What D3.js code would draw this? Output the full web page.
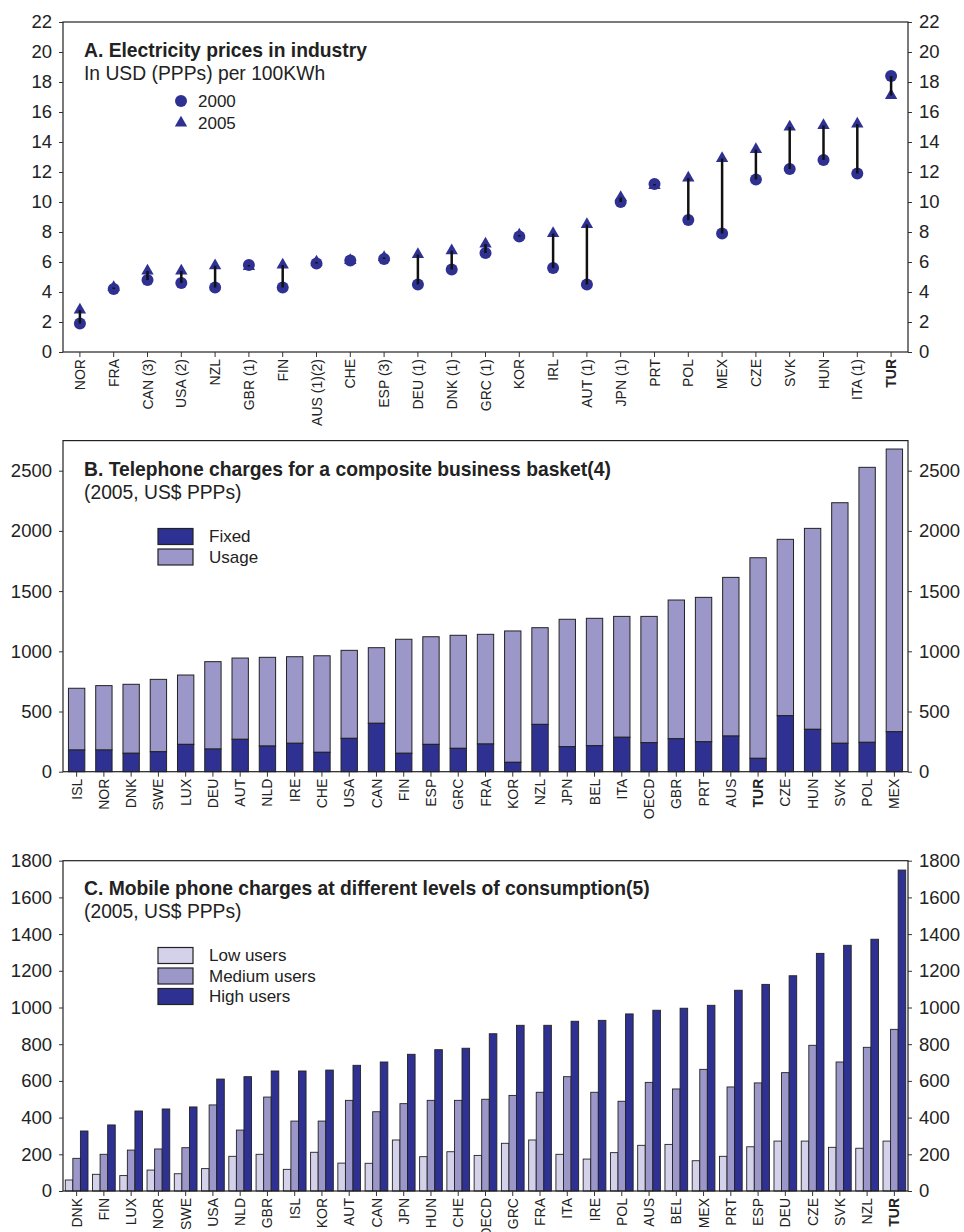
<!DOCTYPE html>
<html>
<head>
<meta charset="utf-8">
<script src="https://cdn.jsdelivr.net/npm/d3@7"></script>
<style>
  body { margin: 0; background: #fff; }
  text { font-family: "Liberation Sans", Arial, sans-serif; fill: #222; }
</style>
</head>
<body>
<svg id="chart" width="964" height="1232"></svg>
<script>
// A. Electricity prices in industry
const elecCountries = ["NOR", "FRA", "CAN (3)", "USA (2)", "NZL", "GBR (1)", "FIN", "AUS (1)(2)", "CHE",
  "ESP (3)", "DEU (1)", "DNK (1)", "GRC (1)", "KOR", "IRL", "AUT (1)", "JPN (1)", "PRT", "POL", "MEX",
  "CZE", "SVK", "HUN", "ITA (1)", "TUR"];
const elec2000 = [1.9, 4.2, 4.8, 4.6, 4.3, 5.8, 4.3, 5.9, 6.1, 6.2, 4.5, 5.5, 6.6, 7.7, 5.6, 4.5, 10.0,
  11.2, 8.8, 7.9, 11.5, 12.2, 12.8, 11.9, 18.4];
const elec2005 = [2.8, 4.3, 5.4, 5.4, 5.75, 5.7, 5.8, 6.0, 6.1, 6.3, 6.5, 6.75, 7.2, 7.8, 7.9, 8.5, 10.3,
  11.1, 11.6, 12.9, 13.5, 15.0, 15.1, 15.2, 17.1];
const elecTicks = [0, 2, 4, 6, 8, 10, 12, 14, 16, 18, 20, 22];

// B. Telephone charges for a composite business basket
const phoneCountries = ["ISL", "NOR", "DNK", "SWE", "LUX", "DEU", "AUT", "NLD", "IRE", "CHE", "USA", "CAN",
  "FIN", "ESP", "GRC", "FRA", "KOR", "NZL", "JPN", "BEL", "ITA", "OECD", "GBR", "PRT", "AUS", "TUR",
  "CZE", "HUN", "SVK", "POL", "MEX"];
const phoneTotal = [693, 715, 726, 767, 803, 914, 944, 950, 955, 963, 1008, 1030, 1100, 1121, 1133, 1141,
  1169, 1196, 1266, 1274, 1290, 1290, 1426, 1448, 1614, 1777, 1930, 2021, 2234, 2528, 2680];
const phoneFixed = [180, 180, 153, 166, 227, 188, 269, 213, 236, 161, 277, 402, 153, 227, 194, 230, 78,
  393, 208, 216, 286, 241, 274, 249, 296, 111, 465, 352, 236, 244, 332];
const phoneTicks = [0, 500, 1000, 1500, 2000, 2500];

// C. Mobile phone charges
const mobileCountries = ["DNK", "FIN", "LUX", "NOR", "SWE", "USA", "NLD", "GBR", "ISL", "KOR", "AUT", "CAN",
  "JPN", "HUN", "CHE", "OECD", "GRC", "FRA", "ITA", "IRE", "POL", "AUS", "BEL", "MEX", "PRT", "ESP",
  "DEU", "CZE", "SVK", "NZL", "TUR"];
const mobileLow = [60, 91, 84, 114, 94, 122, 189, 200, 118, 211, 152, 151, 278, 187, 214, 194, 260, 278,
  200, 174, 209, 249, 254, 165, 189, 241, 272, 272, 238, 233, 272];
const mobileMedium = [178, 200, 223, 229, 236, 469, 332, 512, 381, 381, 494, 432, 476, 494, 494, 500, 521,
  538, 623, 538, 489, 592, 556, 663, 567, 589, 645, 794, 703, 783, 881];
const mobileHigh = [327, 360, 436, 447, 458, 610, 623, 654, 654, 659, 685, 703, 745, 770, 778, 857, 903,
  903, 925, 930, 965, 985, 996, 1012, 1094, 1126, 1173, 1295, 1339, 1372, 1749];
const mobileTicks = [0, 200, 400, 600, 800, 1000, 1200, 1400, 1600, 1800];

const navy = "#2e3192";
const lavender = "#9c97c9";
const lilac = "#d4d2ea";

const left = 63, right = 908;
const svg = d3.select("#chart");

function drawFrame(y, top, bottom, ticks, x, labels) {
  const g = svg.append("g");
  g.append("g")
    .attr("transform", `translate(${left},0)`)
    .call(d3.axisLeft(y).tickValues(ticks).tickFormat(d3.format("d")).tickSize(4).tickPadding(7))
    .call(a => a.select(".domain").remove());
  g.append("g")
    .attr("transform", `translate(${right},0)`)
    .call(d3.axisRight(y).tickValues(ticks).tickFormat(d3.format("d")).tickSize(4).tickPadding(7))
    .call(a => a.select(".domain").remove());
  g.selectAll(".tick text").style("font-size", "18.5px").attr("fill", "#222");
  g.selectAll(".tick line").attr("stroke", "#333");

  g.append("rect")
    .attr("x", left).attr("y", top)
    .attr("width", right - left).attr("height", bottom - top)
    .attr("fill", "none").attr("stroke", "#222").attr("stroke-width", 1.2);

  g.append("g")
    .selectAll("line")
    .data(labels)
    .join("line")
    .attr("x1", d => x(d) + x.bandwidth() / 2)
    .attr("x2", d => x(d) + x.bandwidth() / 2)
    .attr("y1", bottom).attr("y2", bottom + 5)
    .attr("stroke", "#333");

  g.append("g")
    .selectAll("text")
    .data(labels)
    .join("text")
    .attr("transform", d => `translate(${x(d) + x.bandwidth() / 2},${bottom + 7}) rotate(-90)`)
    .attr("text-anchor", "end")
    .attr("dy", "0.36em")
    .style("font-size", "14px")
    .style("font-weight", d => d === "TUR" ? "bold" : "normal")
    .text(d => d);
}

function drawTitle(title, sub, yTitle) {
  svg.append("text")
    .attr("x", 84).attr("y", yTitle)
    .style("font-size", "19.3px").style("font-weight", "bold")
    .text(title);
  svg.append("text")
    .attr("x", 84).attr("y", yTitle + 23)
    .style("font-size", "19.3px")
    .text(sub);
}

function drawLegendBoxes(items, y0) {
  items.forEach((e, i) => {
    const y = y0 + i * 20.5;
    svg.append("rect")
      .attr("x", 158).attr("y", y)
      .attr("width", 35).attr("height", 16)
      .attr("fill", e.color).attr("stroke", "#222").attr("stroke-width", 1.2);
    svg.append("text")
      .attr("x", 209).attr("y", y + 8)
      .attr("dy", "0.35em")
      .style("font-size", "17px")
      .text(e.label);
  });
}

// ---- Panel A ----
{
  const top = 22, bottom = 352;
  const x = d3.scaleBand().domain(elecCountries).range([left, right]);
  const y = d3.scaleLinear().domain([0, 22]).range([bottom, top]);
  drawFrame(y, top, bottom, elecTicks, x, elecCountries);
  drawTitle("A. Electricity prices in industry", "In USD (PPPs) per 100KWh", 57);

  const cx = d => x(d) + x.bandwidth() / 2;
  const tri = d3.symbol().type(d3.symbolTriangle).size(66);

  svg.append("g")
    .selectAll("path")
    .data(elecCountries)
    .join("path")
    .attr("d", tri)
    .attr("transform", (d, i) => `translate(${cx(d)},${y(elec2005[i])})`)
    .attr("fill", navy);

  svg.append("g")
    .selectAll("circle")
    .data(elecCountries)
    .join("circle")
    .attr("cx", cx)
    .attr("cy", (d, i) => y(elec2000[i]))
    .attr("r", 6)
    .attr("fill", navy);

  svg.append("g")
    .selectAll("line")
    .data(elecCountries)
    .join("line")
    .attr("x1", cx).attr("x2", cx)
    .attr("y1", (d, i) => y(elec2000[i]))
    .attr("y2", (d, i) => y(elec2005[i]))
    .attr("stroke", "#111")
    .attr("stroke-width", 2.5);

  // legend
  svg.append("circle").attr("cx", 181).attr("cy", 101).attr("r", 6).attr("fill", navy);
  svg.append("path").attr("d", tri).attr("transform", "translate(181,123)").attr("fill", navy);
  svg.append("text").attr("x", 198).attr("y", 101).attr("dy", "0.35em").style("font-size", "17px").text("2000");
  svg.append("text").attr("x", 198).attr("y", 123).attr("dy", "0.35em").style("font-size", "17px").text("2005");
}

// ---- Panel B ----
{
  const top = 440.6, bottom = 771.7;
  const x = d3.scaleBand().domain(phoneCountries).range([left, right]).paddingInner(0.4).paddingOuter(0.2);
  const y = d3.scaleLinear().domain([0, 2750]).range([bottom, top]);

  svg.append("g")
    .selectAll("rect")
    .data(phoneCountries)
    .join("rect")
    .attr("x", d => x(d))
    .attr("width", x.bandwidth())
    .attr("y", (d, i) => y(phoneTotal[i]))
    .attr("height", (d, i) => y(phoneFixed[i]) - y(phoneTotal[i]))
    .attr("fill", lavender)
    .attr("stroke", "#222").attr("stroke-width", 1);

  svg.append("g")
    .selectAll("rect")
    .data(phoneCountries)
    .join("rect")
    .attr("x", d => x(d))
    .attr("width", x.bandwidth())
    .attr("y", (d, i) => y(phoneFixed[i]))
    .attr("height", (d, i) => bottom - y(phoneFixed[i]))
    .attr("fill", navy)
    .attr("stroke", "#222").attr("stroke-width", 1);

  const xb = d3.scaleBand().domain(phoneCountries).range([left, right]);
  drawFrame(y, top, bottom, phoneTicks, xb, phoneCountries);
  drawTitle("B. Telephone charges for a composite business basket(4)", "(2005, US$ PPPs)", 476);
  drawLegendBoxes([{ label: "Fixed", color: navy }, { label: "Usage", color: lavender }], 528.5);
}

// ---- Panel C ----
{
  const top = 860.7, bottom = 1191;
  const x = d3.scaleBand().domain(mobileCountries).range([left, right]);
  const series = [
    { values: mobileLow, color: lilac },
    { values: mobileMedium, color: lavender },
    { values: mobileHigh, color: navy },
  ];
  const xs = d3.scaleBand().domain([0, 1, 2]).range([0, x.bandwidth()]).paddingOuter(0.3);
  const y = d3.scaleLinear().domain([0, 1800]).range([bottom, top]);

  series.forEach((s, k) => {
    svg.append("g")
      .selectAll("rect")
      .data(mobileCountries)
      .join("rect")
      .attr("x", d => x(d) + xs(k))
      .attr("width", xs.bandwidth())
      .attr("y", (d, i) => y(s.values[i]))
      .attr("height", (d, i) => bottom - y(s.values[i]))
      .attr("fill", s.color)
      .attr("stroke", "#222").attr("stroke-width", 0.9);
  });

  drawFrame(y, top, bottom, mobileTicks, x, mobileCountries);
  drawTitle("C. Mobile phone charges at different levels of consumption(5)", "(2005, US$ PPPs)", 895);
  drawLegendBoxes([
    { label: "Low users", color: lilac },
    { label: "Medium users", color: lavender },
    { label: "High users", color: navy },
  ], 947.5);
}
</script>
</body>
</html>
